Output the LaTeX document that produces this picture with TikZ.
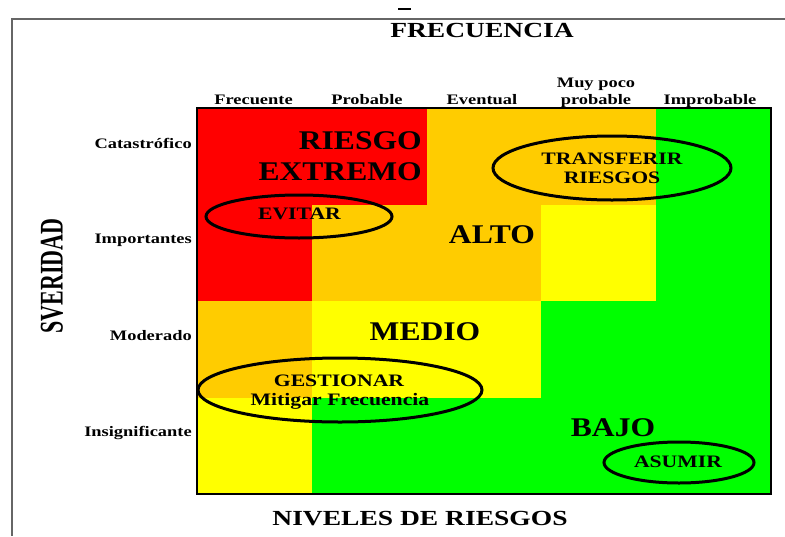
\documentclass[tikz,border=0pt]{standalone}
\usepackage{fontspec}
\setmainfont{Liberation Serif}

\begin{document}
\begin{tikzpicture}[x = 1pt, y = -1pt,
  titulo/.style = {font = \fontsize{21.5}{24}\selectfont\bfseries, xscale = 1.28, inner sep = 0},
  encabezado/.style = {font = \fontsize{14.5}{17}\selectfont\bfseries, xscale = 1.27, inner sep = 0},
  nivel/.style = {font = \fontsize{27}{30}\selectfont\bfseries, xscale = 1.17, inner sep = 0},
  accion/.style = {font = \fontsize{17.5}{20}\selectfont\bfseries, xscale = 1.24, inner sep = 0},
  contorno/.style = {line width = 3pt}]
  \useasboundingbox (0, 0) rectangle (785, 536);

  \definecolor{rojo}{HTML}{FF0000};
  \definecolor{naranja}{HTML}{FFCC00};
  \definecolor{amarillo}{HTML}{FFFF00};
  \definecolor{verde}{HTML}{00FF00};
  \definecolor{marco}{HTML}{666666};

  % marco de la hoja
  \draw[marco, line width = 1.5pt] (785, 19) -- (12, 19) -- (12, 536);
  \draw[line width = 2pt] (398, 9) -- (411, 9);

  % matriz de riesgos
  \foreach \fila/\colores in {0/{rojo,rojo,naranja,naranja,verde},
                              1/{rojo,naranja,naranja,amarillo,verde},
                              2/{naranja,amarillo,amarillo,verde,verde},
                              3/{amarillo,verde,verde,verde,verde}}
    \foreach \tono [count = \col from 0] in \colores
      \fill[\tono] ({197 + 114.8*\col}, {108 + 96.5*\fila}) rectangle ++(115.3, 97);
  \draw[line width = 2pt] (197, 108) rectangle (771, 494);

  \node[titulo] (frecuencia) at (482, 30) {FRECUENCIA};
  \node[titulo, anchor = base] (niveles) at (420, 525) {NIVELES DE RIESGOS};
  \node[font = \fontsize{22}{24}\selectfont\bfseries, inner sep = 0, xscale = 1.5, rotate = 90]
    (sveridad) at (52, 276) {SVERIDAD};

  % frecuencia
  \node[encabezado, anchor = base] (frecuente) at (253.5, 104) {Frecuente};
  \node[encabezado, anchor = base] (probable) at (367, 104) {Probable};
  \node[encabezado, anchor = base] (eventual) at (482, 104) {Eventual};
  \node[encabezado, anchor = base] (muypoco) at (596, 87) {Muy poco};
  \node[encabezado, anchor = base] (pocoprobable) at (596, 104) {probable};
  \node[encabezado, anchor = base] (improbable) at (710, 104) {Improbable};

  % severidad
  \node[encabezado, anchor = base east] (catastrofico) at (192, 148) {Catastrófico};
  \node[encabezado, anchor = base east] (importantes) at (192, 243) {Importantes};
  \node[encabezado, anchor = base east] (moderado) at (192, 340) {Moderado};
  \node[encabezado, anchor = base east] (insignificante) at (192, 436) {Insignificante};

  % niveles
  \node[nivel, anchor = base east] (riesgo) at (422, 149) {RIESGO};
  \node[nivel, anchor = base east] (extremo) at (422, 180) {EXTREMO};
  \node[nivel, anchor = base] (alto) at (492, 243) {ALTO};
  \node[nivel, anchor = base] (medio) at (425, 340) {MEDIO};
  \node[nivel, anchor = base] (bajo) at (613, 436) {BAJO};

  % acciones
  \draw[contorno] (299, 216.5) ellipse [x radius = 93, y radius = 21.5];
  \node[accion, anchor = base] (evitar) at (299.5, 219) {EVITAR};

  \draw[contorno] (612, 168) ellipse [x radius = 119, y radius = 32];
  \node[accion, anchor = base] (transferir) at (612, 164) {TRANSFERIR};
  \node[accion, anchor = base] (riesgos) at (612, 183) {RIESGOS};

  \draw[contorno] (340, 390) ellipse [x radius = 142, y radius = 32];
  \node[accion, anchor = base] (gestionar) at (339, 386) {GESTIONAR};
  \node[accion, anchor = base] (mitigar) at (340, 405) {Mitigar Frecuencia};

  \draw[contorno] (679, 462.5) ellipse [x radius = 75, y radius = 20.5];
  \node[accion, anchor = base] (asumir) at (678, 467) {ASUMIR};
\end{tikzpicture}
\end{document}
